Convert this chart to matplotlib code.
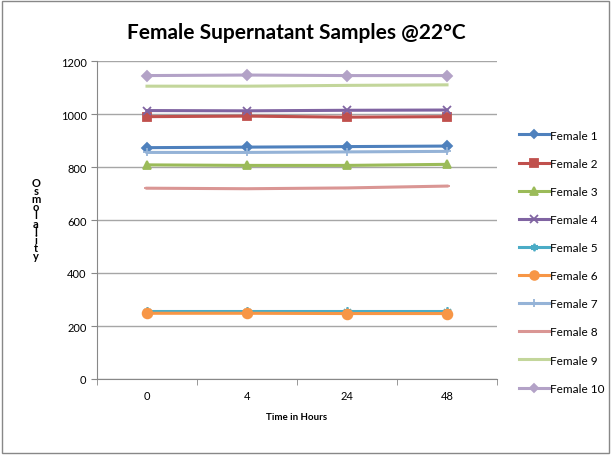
import matplotlib.pyplot as plt
import numpy as np

plt.rcParams['font.family'] = ['Lato', 'DejaVu Sans']

hours = ['0', '4', '24', '48']
f1 = [873, 875, 877, 879]
f2 = [990, 992, 988, 990]
f3 = [808, 806, 806, 810]
f4 = [1013, 1012, 1014, 1015]
f5 = [258, 258, 258, 258]
f6 = [248, 248, 247, 247]
f7 = [855, 855, 857, 859]
f8 = [720, 718, 721, 728]
f9 = [1105, 1105, 1108, 1110]
f10 = [1145, 1147, 1145, 1145]

series = [f1, f2, f3, f4, f5, f6, f7, f8, f9, f10]
names = ['Female %d' % i for i in range(1, 11)]
colors = ['#4F81BD', '#C0504D', '#9BBB59', '#8064A2', '#4BACC6',
          '#F79646', '#95B3D7', '#DA9694', '#C3D69B', '#B3A2C7']
markers = ['D', 's', '^', 'x', (6, 2, 0), 'o', '+', '_', None, 'D']
msizes = [5, 6, 6, 6, 6, 7, 6, 5, 0, 5]

fig = plt.figure(figsize=(6.11, 4.56), dpi=100)
ax = fig.add_axes([97/611, 1-380/456, 400/611, 318/456])

x = np.arange(len(hours)) + 0.5
for y, n, c, m, s in zip(series, names, colors, markers, msizes):
    ax.plot(x, y, color=c, lw=2.2, marker=m, ms=s, mew=1.3,
            mfc=c, mec=c, label=n)

ax.set_xlim(0, 4)
ax.set_ylim(0, 1200)
ax.set_yticks(range(0, 1201, 200))
ax.set_xticks(x)
ax.set_xticklabels(hours)
ax.set_xticks(np.arange(0, 5), minor=True)
ax.tick_params(axis='x', which='major', length=0, labelsize=8, pad=8)
ax.tick_params(axis='x', which='minor', length=4, color='#888888')
ax.tick_params(axis='y', length=4, color='#888888', labelsize=8)
ax.grid(axis='y', color='#A6A6A6', lw=1)
ax.set_axisbelow(True)
for s in ['top', 'right']:
    ax.spines[s].set_visible(False)
ax.spines['left'].set_color('#888888')
ax.spines['bottom'].set_color('#888888')

ax.set_xlabel('Time in Hours', fontsize=7, fontweight='bold', labelpad=8)
fig.text(36/611, 1-220/456, '\n'.join('Osmolality'), fontsize=8,
         fontweight='bold', ha='center', va='center', linespacing=0.68)

fig.suptitle('Female Supernatant Samples @22°C', fontsize=15,
             fontweight='bold', x=296/611, y=1-33/456, va='center')

ax.legend(loc='upper left', bbox_to_anchor=(508/611, 1-120/456),
          bbox_transform=fig.transFigure, frameon=False, fontsize=8.5,
          labelspacing=1.45, handlelength=2.6, handletextpad=0.1,
          markerscale=0.9)

fig.patches.append(plt.Rectangle((2/611, 2/456), 607/611, 452/456,
                                 transform=fig.transFigure, fill=False,
                                 edgecolor='#888888', lw=1))

fig.savefig('out.png', dpi=100)
